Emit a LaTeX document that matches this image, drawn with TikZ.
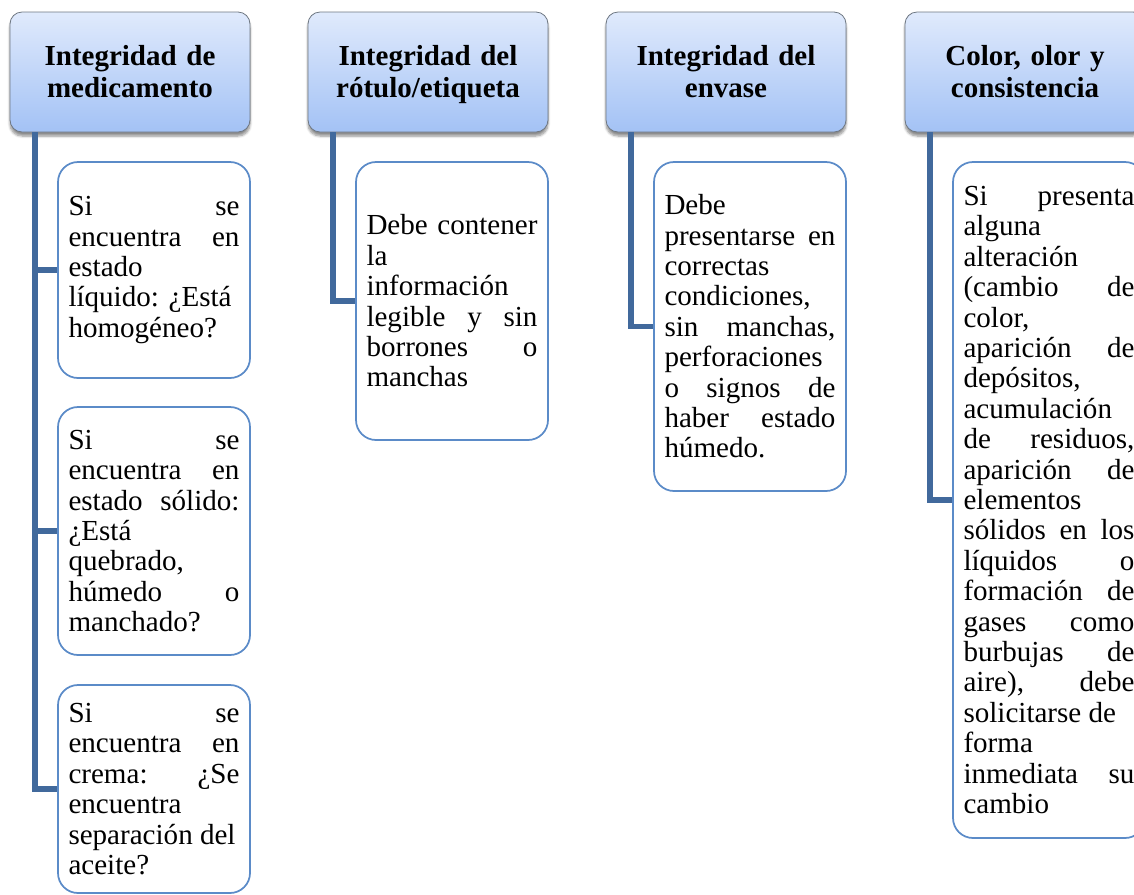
\documentclass[tikz,border=0pt]{standalone}
\usepackage{fontspec}
\setmainfont{Liberation Serif}
\usetikzlibrary{shadows.blur}
\definecolor{hdrtop}{HTML}{E0EAFC}
\definecolor{hdrbot}{HTML}{A3C2F5}
\definecolor{hdrline}{HTML}{6E7782}
\definecolor{linkblue}{HTML}{41699C}
\definecolor{boxblue}{HTML}{5B8BC8}
\newcommand{\hstrut}{\rule{0pt}{20.5pt}}
\newcommand{\dstrut}{\rule[-7pt]{0pt}{7pt}}
\tikzset{
 hdr/.style={rectangle, rounded corners=9pt, draw=hdrline, line width=0.6pt, top color=hdrtop, bottom color=hdrbot, minimum width=180pt, minimum height=90pt, text width=170pt, align=center, inner sep=0pt, font=\bfseries\fontsize{21.75}{24}\selectfont, blur shadow={shadow xshift=0pt, shadow yshift=-3pt, shadow blur steps=6, shadow opacity=45}},
 childbox/.style={rectangle, rounded corners=15pt, draw=boxblue, line width=1.3pt, fill=white, text width=128.25pt, minimum width=144pt, inner xsep=7.875pt, inner ysep=0pt, align=justify, font=\fontsize{21.8}{22.8}\selectfont},
 link/.style={draw=linkblue, line width=3.8pt, line join=miter}
}
\begin{document}
\begin{tikzpicture}[x=0.75pt,y=-0.75pt]
\useasboundingbox (0,0) rectangle (1134,894);
\clip (0,0) rectangle (1134,894);
% headers
\node[hdr] (h1) at (130,72) {\hstrut Integridad de\\medicamento\dstrut};
\node[hdr] (h2) at (428,72) {\hstrut Integridad del\\rótulo/etiqueta\dstrut};
\node[hdr] (h3) at (726,72) {\hstrut Integridad del\\envase\dstrut};
\node[hdr] (h4) at (1025,72) {\hstrut Color, olor y\\consistencia\dstrut};
% trunk coordinates
\coordinate (v1) at (35,132);
\coordinate (v2) at (333,132);
\coordinate (v3) at (631,132);
\coordinate (v4) at (930,132);
% children
\node[childbox, minimum height=162pt] (c11) at (154,270) {Si se\linebreak encuentra en\linebreak estado\linebreak líquido: ¿Está\\ homogéneo?};
\node[childbox, minimum height=186pt] (c12) at (154,531) {Si se\linebreak encuentra en\linebreak estado sólido:\linebreak ¿Está\linebreak quebrado,\linebreak húmedo o\linebreak manchado?};
\node[childbox, minimum height=156pt] (c13) at (154,789) {Si se\linebreak encuentra en\linebreak crema: ¿Se\linebreak encuentra\linebreak separación del\\ aceite?};
\node[childbox, minimum height=208.5pt] (c21) at (452,301) {Debe contener\linebreak la\linebreak información\linebreak legible y sin\linebreak borrones o\linebreak manchas};
\node[childbox, minimum height=246.75pt] (c31) at (750,326.5) {Debe\linebreak presentarse en\linebreak correctas\linebreak condiciones,\linebreak sin manchas,\linebreak perforaciones\linebreak o signos de\linebreak haber estado\linebreak húmedo.};
\node[childbox, minimum height=507pt] (c41) at (1049,500) {Si presenta\linebreak alguna\linebreak alteración\linebreak (cambio de\linebreak color,\linebreak aparición de\linebreak depósitos,\linebreak acumulación\linebreak de residuos,\linebreak aparición de\linebreak elementos\linebreak sólidos en los\linebreak líquidos o\linebreak formación de\linebreak gases como\linebreak burbujas de\linebreak aire), debe\linebreak solicitarse de\\ forma\linebreak inmediata su\linebreak cambio};
% connectors
\draw[link] (v1) |- (c11.west);
\draw[link] (v1) |- (c12.west);
\draw[link] (v1) |- (c13.west);
\draw[link] (v2) |- (c21.west);
\draw[link] (v3) |- (c31.west);
\draw[link] (v4) |- (c41.west);
\end{tikzpicture}
\end{document}
